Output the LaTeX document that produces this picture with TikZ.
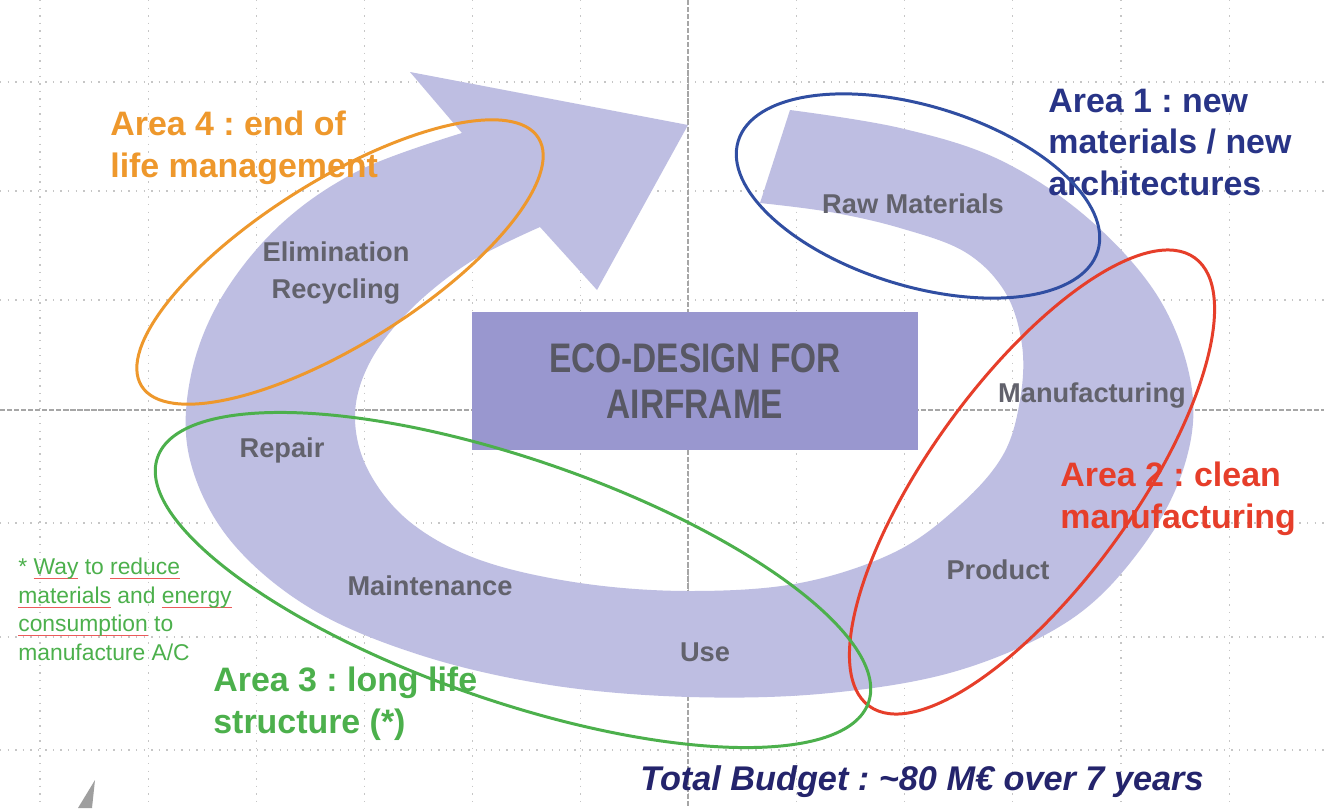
\documentclass[tikz,border=0pt]{standalone}
\usepackage{fontspec}
\setmainfont{Liberation Sans}
\newfontfamily\boxfont{Liberation Sans}[FakeStretch=0.81]
\definecolor{bandfill}{RGB}{190,190,226}
\definecolor{boxfill}{RGB}{153,151,207}
\definecolor{stagegray}{RGB}{98,98,108}
\definecolor{boxtext}{RGB}{88,88,100}
\definecolor{orangezone}{RGB}{238,152,44}
\definecolor{bluezone}{RGB}{48,78,162}
\definecolor{bluetext}{RGB}{40,52,135}
\definecolor{redzone}{RGB}{230,62,42}
\definecolor{greenzone}{RGB}{76,176,76}
\definecolor{budgetnavy}{RGB}{36,36,108}
\definecolor{spellred}{RGB}{235,90,90}
\newsavebox\spellbox
\newcommand\spellmark[1]{\sbox\spellbox{#1}\rlap{\textcolor{spellred}{\rule[-2.6pt]{\wd\spellbox}{0.45pt}}}\usebox\spellbox}
\begin{document}
\begin{tikzpicture}[x=0.02cm,y=-0.02cm,
  gridline/.style={gray!45, line width=0.6pt, dash pattern=on 0.8pt off 3.5pt},
  axisline/.style={gray!70, line width=0.6pt, dash pattern=on 3pt off 1pt},
  stage/.style={text=stagegray, font=\bfseries\fontsize{15.5}{21}\selectfont, inner sep=0pt, anchor=base},
  zonetext/.style={font=\frenchspacing\bfseries\fontsize{19.3}{23.4}\selectfont, align=left, anchor=base west, inner sep=0pt},
  zone/.style={line width=1.7pt}]
\useasboundingbox (0,0) rectangle (1324,808);
\fill[white] (0,0) rectangle (1324,808);
% grid
\foreach \gx in {0,...,11}
  \draw[gridline] ({40+108.1*\gx},0) -- ({40+108.1*\gx},808);
\foreach \gy in {82,191,300,523,637,750}
  \draw[gridline] (0,\gy) -- (1324,\gy);
\draw[axisline] (688,0) -- (688,808);
\draw[axisline] (0,410) -- (1324,410);
% circular arrow
\fill[bandfill] (790,110)
  -- plot[smooth, tension=0.6] coordinates {(790,110) (900,128) (1000,160) (1090,220) (1160,300) (1192,390) (1183,470) (1140,550) (1070,620) (960,670) (830,693) (690,697) (550,685) (420,655) (310,608) (230,540) (190,460) (190,380) (220,300) (280,225) (360,170) (462,133)}
  -- (410,72) -- (688,125) -- (597,290) -- (540,227)
  -- plot[smooth, tension=0.6] coordinates {(540,227) (470,262) (410,310) (370,362) (355,415) (368,470) (410,522) (480,560) (580,583) (690,591) (800,583) (895,552) (960,505) (1003,455) (1020,400) (1022,345) (1005,292) (965,252) (900,228) (830,212) (760,203)}
  -- cycle;
% centre box
\node[fill=boxfill, minimum width=8.92cm, minimum height=2.76cm, align=center, text=boxtext,
  font=\boxfont\bfseries\fontsize{23.5}{26.6}\selectfont] (core) at (695,381) {ECO-DESIGN FOR\\AIRFRAME};
% stages
\node[stage] (raw) at (913,213) {Raw Materials};
\node[stage] (manuf) at (1092,402) {Manufacturing};
\node[stage] (product) at (998,579) {Product};
\node[stage] (use) at (705,661) {Use};
\node[stage] (maint) at (430,595) {Maintenance};
\node[stage] (repair) at (282,457) {Repair};
\node[stage, align=center, anchor=center] (elim) at (336,273) {Elimination\\Recycling};
% areas (anchored on the last line)
\node[zonetext, text=orangezone] (area4) at (110,177) {Area 4 : end of\\life management};
\node[zonetext, text=bluetext] (area1) at (1048,195) {Area 1 : new\\materials / new\\architectures};
\node[zonetext, text=redzone] (area2) at (1060,528) {Area 2 : clean\\manufacturing};
\node[zonetext, text=greenzone] (area3) at (213,733) {Area 3 : long life\\structure (*)};
\node[anchor=base west, align=left, inner sep=0pt, text=greenzone, font=\fontsize{13}{16.2}\selectfont] (note) at (18,660)
  {* \spellmark{Way} to \spellmark{reduce}\\\spellmark{materials} and \spellmark{energy}\\\spellmark{consumption} to\\manufacture A/C};
\node[anchor=base west, inner sep=0pt, text=budgetnavy, font=\frenchspacing\bfseries\itshape\fontsize{19.5}{23}\selectfont] (budget) at (640,790)
  {Total Budget : \textasciitilde 80 M€ over 7 years};
% zones
\draw[zone, orangezone, rotate around={32:(340,262)}] (340,262) ellipse (234 and 82);
\draw[zone, bluezone, rotate around={-17:(918,196)}] (918,196) ellipse (188 and 90);
\draw[zone, redzone, rotate around={54:(1032,482)}] (1032,482) ellipse (277 and 102);
\draw[zone, greenzone, rotate around={-19:(513,580)}] (513,580) ellipse (376 and 121);
% corner spike
\fill[gray!75] (95,780) -- (78,808) -- (92,808) -- cycle;
\end{tikzpicture}
\end{document}
